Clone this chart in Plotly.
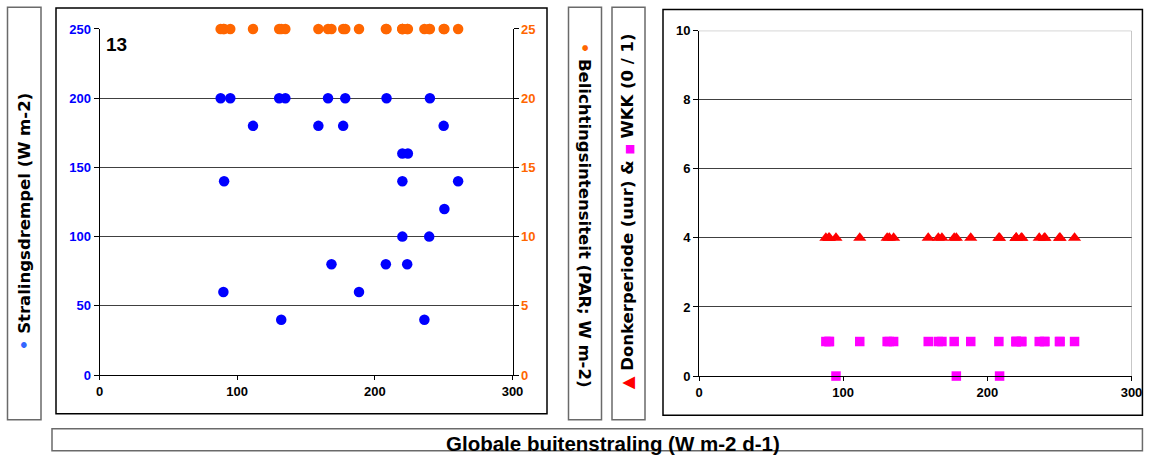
import plotly.graph_objects as go

# ---------------- data ----------------
dagen = [88, 90, 90.5, 95, 111.5, 130.5, 132, 135, 159, 166, 168.5, 177, 178.5,
         188.5, 208, 208.5, 220, 220, 220, 223.5, 224, 236, 239.5, 240, 250, 250.5, 260.5]
stralingsdrempel = [200, 60, 140, 200, 180, 200, 40, 200, 180, 200, 80, 180, 200,
                    60, 80, 200, 160, 140, 100, 80, 160, 40, 100, 200, 180, 120, 140]
belichting = [25] * len(dagen)
donkerperiode = [4] * len(dagen)
wkk = [1, 1, 1, 0, 1, 1, 1, 1, 1, 1, 1, 1, 0,
       1, 1, 0, 1, 1, 1, 1, 1, 1, 1, 1, 1, 1, 1]

x_ticks = [0, 100, 200, 300]
panel_label = "13"

W, H = 1154, 459
# layout positions are given in target-picture pixels and mapped to figure fractions
SX, OX = 0.987, 4.0
SY, OY = 0.969, 7.0
def px(x):
    return min(max(((x - OX) / SX) / W, 0.0005), 0.9995)
def py(y):
    return min(max(1 - ((y - OY) / SY) / H, 0.0005), 0.9995)

BLUE = "#0000FF"
ORANGE = "#FF6600"
RED = "#FF0000"
MAGENTA = "#FF00FF"
TICKFONT = dict(family="Liberation Sans, Arial", size=13, color="black", weight="bold")

fig = go.Figure()

fig.add_trace(go.Scatter(x=dagen, y=stralingsdrempel, mode="markers", xaxis="x", yaxis="y",
                         marker=dict(color=BLUE, size=10.5, symbol="circle"), cliponaxis=False,
                         showlegend=False))
fig.add_trace(go.Scatter(x=dagen, y=belichting, mode="markers", xaxis="x", yaxis="y2",
                         marker=dict(color=ORANGE, size=10.5, symbol="circle"), cliponaxis=False,
                         showlegend=False))
fig.add_trace(go.Scatter(x=dagen, y=donkerperiode, mode="markers", xaxis="x2", yaxis="y3",
                         marker=dict(color=RED, size=11.5, symbol="triangle-up"), cliponaxis=False,
                         showlegend=False))
fig.add_trace(go.Scatter(x=dagen, y=wkk, mode="markers", xaxis="x2", yaxis="y3",
                         marker=dict(color=MAGENTA, size=9.5, symbol="square"), cliponaxis=False,
                         showlegend=False))

common_x = dict(range=[0, 300], tickvals=x_ticks, showline=True, linecolor="black", linewidth=1,
                ticks="outside", ticklen=4, tickcolor="black", tickfont=TICKFONT,
                showgrid=False, zeroline=False, fixedrange=True)

fig.update_layout(
    width=W, height=H,
    margin=dict(l=0, r=0, t=0, b=0),
    paper_bgcolor="white", plot_bgcolor="white",
    xaxis=dict(domain=[px(99.5), px(512.5)], anchor="y", **common_x),
    yaxis=dict(domain=[py(375.7), py(29)], range=[0, 250], dtick=50, tick0=0, anchor="x",
               showline=True, linecolor="black", linewidth=1, ticks="outside", ticklen=5,
               tickcolor="black", tickfont=dict(TICKFONT, color=BLUE),
               showgrid=True, gridcolor="#404040", gridwidth=1, zeroline=False),
    yaxis2=dict(overlaying="y", side="right", anchor="x", range=[0, 25], dtick=5, tick0=0,
                showline=True, linecolor="black", linewidth=1, ticks="outside", ticklen=5,
                tickcolor="black", tickfont=dict(TICKFONT, color=ORANGE),
                showgrid=False, zeroline=False),
    xaxis2=dict(domain=[px(699), px(1131.5)], anchor="y3", **common_x),
    yaxis3=dict(domain=[py(376.7), py(30.7)], range=[0, 10], dtick=2, tick0=0, anchor="x2",
                showline=True, linecolor="black", linewidth=1, ticks="outside", ticklen=5,
                tickcolor="black", tickfont=TICKFONT,
                showgrid=True, gridcolor="#404040", gridwidth=1, zeroline=False),
)

shapes = []
def box(x0, y0, x1, y1, color, width=1.5):
    shapes.append(dict(type="rect", xref="paper", yref="paper",
                       x0=px(x0), x1=px(x1), y0=py(y1), y1=py(y0),
                       line=dict(color=color, width=width), fillcolor="rgba(0,0,0,0)",
                       layer="below"))
box(7.5, 5, 41, 420.5, "#6a6a6a")
box(56, 8, 547, 414.5, "black")
box(568.5, 5, 601.5, 420.5, "#6a6a6a")
box(612, 5, 645, 420.5, "#6a6a6a")
box(663, 9.5, 1152.5, 416, "black")
box(52, 429.5, 1160, 456.5, "#6a6a6a")
# grey plot-area border of right panel (top and right)
shapes.append(dict(type="line", xref="x2", yref="y3", x0=0, x1=300, y0=10, y1=10,
                   line=dict(color="#909090", width=1)))
shapes.append(dict(type="line", xref="x2", yref="y3", x0=300, x1=300, y0=0, y1=10,
                   line=dict(color="#909090", width=1)))
fig.update_layout(shapes=shapes)

LABELFONT = dict(family="DejaVu Sans", size=16.5, color="black", weight="bold")
annotations = [
    dict(text=panel_label, xref="paper", yref="paper", x=px(104), y=py(45),
         xanchor="left", yanchor="middle", showarrow=False,
         font=dict(family="Liberation Sans, Arial", size=19, color="black", weight="bold")),
    dict(text="<span style='color:#3366FF'>•</span> Stralingsdrempel (W m-2)",
         xref="paper", yref="paper", x=px(24.5), y=py(222), textangle=-90,
         xanchor="center", yanchor="middle", showarrow=False, font=LABELFONT),
    dict(text="<span style='color:#FF6600'>•</span> Belichtingsintensiteit (PAR; W m-2)",
         xref="paper", yref="paper", x=px(584), y=py(215), textangle=90,
         xanchor="center", yanchor="middle", showarrow=False, font=LABELFONT),
    dict(text="<span style='color:#FF0000'>▲</span> Donkerperiode (uur) &amp; "
              "<span style='color:#FF00FF;font-size:11px'>■</span> WKK (0 / 1)",
         xref="paper", yref="paper", x=px(627.5), y=py(212), textangle=-90,
         xanchor="center", yanchor="middle", showarrow=False, font=LABELFONT),
    dict(text="Globale buitenstraling (W m-2 d-1)", xref="paper", yref="paper",
         x=px(613), y=py(444), xanchor="center", yanchor="middle", showarrow=False,
         font=dict(family="Liberation Sans, Arial", size=20.5, color="black", weight="bold")),
]
fig.update_layout(annotations=annotations)

fig.write_html("out.html")
